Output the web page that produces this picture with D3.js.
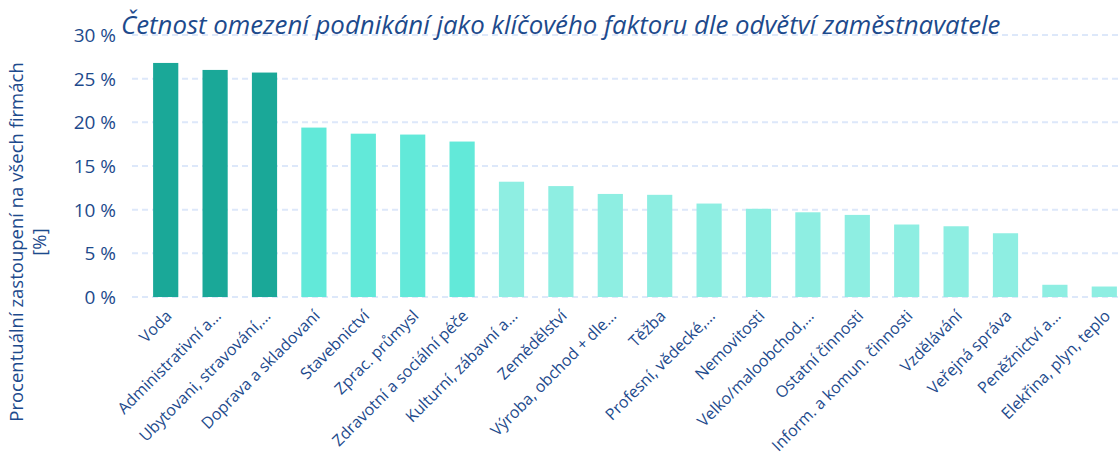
<!DOCTYPE html>
<html>
<head>
<meta charset="utf-8">
<script src="https://cdn.jsdelivr.net/npm/d3@7"></script>
<style>
  body { margin: 0; background: #fff; }
  text { font-family: "Open Sans", "Noto Sans", sans-serif; fill: #1d4a8c; }
</style>
</head>
<body>
<svg id="chart" width="1118" height="456"></svg>
<script>
// categories (sorted as in the source)
var categories = [
  "Voda", "Administrativní a…", "Ubytovani, stravování,…", "Doprava a skladovaní",
  "Stavebnictví", "Zprac. průmysl", "Zdravotní a sociální péče", "Kulturní, zábavní a…",
  "Zemědělství", "Výroba, obchod + dle…", "Těžba", "Profesní, vědecké,…",
  "Nemovitosti", "Velko/maloobchod,…", "Ostatní činnosti", "Inform. a komun. činnosti",
  "Vzdělávání", "Veřejná správa", "Peněžnictví a…", "Elekřina, plyn, teplo"
];
// share in %
var values = [26.8, 26.0, 25.7, 19.4, 18.7, 18.6, 17.8, 13.2, 12.7, 11.8, 11.7, 10.7,
  10.1, 9.7, 9.4, 8.3, 8.1, 7.3, 1.4, 1.2];
// colour group per bar: 0 = top three, 1 = next four, 2 = rest
var groups = [0, 0, 0, 1, 1, 1, 1, 2, 2, 2, 2, 2, 2, 2, 2, 2, 2, 2, 2, 2];
var groupColors = ["#1aa898", "#62e9d9", "#8eeee2"];
var yTicks = [0, 5, 10, 15, 20, 25, 30];

var svg = d3.select("#chart");
var margin = {left: 141, top: 35, bottom: 159};
var height = 456 - margin.top - margin.bottom;
var step = 49.4;

var x = d3.scaleBand()
  .domain(categories)
  .range([margin.left, margin.left + step * categories.length])
  .paddingInner(0.49)
  .paddingOuter(0.245);

var y = d3.scaleLinear()
  .domain([0, 30])
  .range([margin.top + height, margin.top]);

// gridlines
svg.append("g")
  .selectAll("line")
  .data(yTicks)
  .join("line")
    .attr("x1", 132)
    .attr("x2", 1118)
    .attr("y1", d => y(d))
    .attr("y2", d => y(d))
    .attr("stroke", "#dde8fa")
    .attr("stroke-width", 2)
    .attr("stroke-dasharray", "6,4");

// y axis labels
var yAxis = d3.axisLeft(y).tickValues(yTicks).tickSize(0).tickPadding(0)
  .tickFormat(d => d + " %");
svg.append("g")
  .attr("transform", "translate(116,0)")
  .call(yAxis)
  .call(g => g.select(".domain").remove())
  .selectAll("text")
    .attr("dy", "0.35em")
    .style("font-size", "19px")
    .style("fill", "#1d4a8c");

// bars
svg.append("g")
  .selectAll("rect")
  .data(values)
  .join("rect")
    .attr("x", (d, i) => x(categories[i]))
    .attr("width", x.bandwidth())
    .attr("y", d => y(d))
    .attr("height", d => y(0) - y(d))
    .attr("fill", (d, i) => groupColors[groups[i]]);

// x labels, rotated
svg.append("g")
  .selectAll("text")
  .data(categories)
  .join("text")
    .attr("transform", d => "translate(" + (x(d) + x.bandwidth() / 2 + 7) + ",317) rotate(-45)")
    .attr("text-anchor", "end")
    .style("font-size", "16px")
    .text(d => d);

// y axis title
svg.append("text")
  .attr("transform", "translate(23,242) rotate(-90)")
  .attr("text-anchor", "middle")
  .style("font-size", "18.5px")
  .text("Procentuální zastoupení na všech firmách");
svg.append("text")
  .attr("transform", "translate(46,242) rotate(-90)")
  .attr("text-anchor", "middle")
  .style("font-size", "18.5px")
  .text("[%]");

// title
svg.append("text")
  .attr("x", 121)
  .attr("y", 34)
  .style("font-size", "25.8px")
  .style("font-style", "italic")
  .text("Četnost omezení podnikání jako klíčového faktoru dle odvětví zaměstnavatele");
</script>
</body>
</html>
